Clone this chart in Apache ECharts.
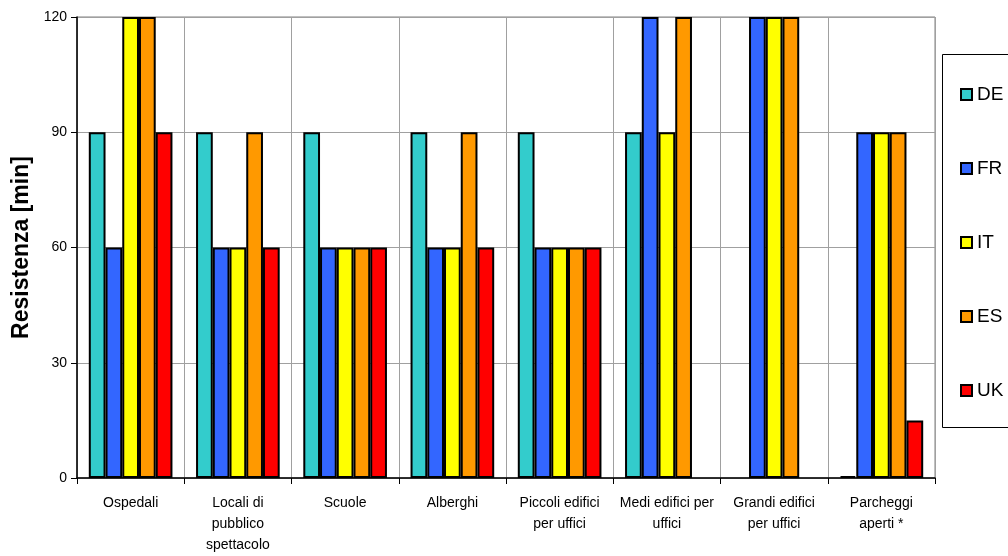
<!DOCTYPE html>
<html>
<head>
<meta charset="utf-8">
<script src="https://cdn.jsdelivr.net/npm/echarts@6/dist/echarts.min.js"></script>
<style>
  html, body { margin: 0; padding: 0; background: #fff; }
  #chart { width: 1008px; height: 556px; }
</style>
</head>
<body>
<div id="chart"></div>
<script>
// Fire resistance requirements by building type and country
const categories = [
  'Ospedali',
  'Locali di\npubblico\nspettacolo',
  'Scuole',
  'Alberghi',
  'Piccoli edifici\nper uffici',
  'Medi edifici per\nuffici',
  'Grandi edifici\nper uffici',
  'Parcheggi\naperti *'
];
const countries = ['DE', 'FR', 'IT', 'ES', 'UK'];
const colors = ['#33CCCC', '#3366FF', '#FFFF00', '#FF9900', '#FF0000'];

const DE = [90, 90, 90, 90, 90, 90, '-', 0.5];
const FR = [60, 60, 60, 60, 60, 120, 120, 90];
const IT = [120, 60, 60, 60, 60, 90, 120, 90];
const ES = [120, 90, 60, 90, 60, 120, 120, 90];
const UK = [90, 60, 60, 60, 60, '-', '-', 15];

const yTicks = { min: 0, max: 120, interval: 30 };
const values = [DE, FR, IT, ES, UK];

const FONT = '"Liberation Sans", Arial, sans-serif';

const chart = echarts.init(document.getElementById('chart'), null, { renderer: 'canvas' });

chart.setOption({
  animation: false,
  textStyle: { fontFamily: FONT },
  grid: {
    left: 77, right: 73, top: 17, bottom: 73,
    show: true, borderColor: '#808080', borderWidth: 1
  },
  legend: {
    orient: 'vertical',
    left: 955,
    top: 80,
    itemWidth: 11,
    itemHeight: 11,
    itemGap: 55,
    icon: 'rect',
    textStyle: { fontSize: 19, color: '#000', fontFamily: FONT, padding: [0, 0, 0, 0] },
    data: countries
  },
  graphic: [{
    type: 'rect',
    left: 940, top: 52,
    shape: { width: 80, height: 373 },
    style: { fill: 'none', stroke: '#000', lineWidth: 1 },
    z: 0
  }],
  xAxis: {
    type: 'category',
    data: categories,
    axisLine: { lineStyle: { color: '#000', width: 1.5 } },
    axisTick: { show: true, length: 6, lineStyle: { color: '#000' } },
    splitLine: { show: true, lineStyle: { color: '#A0A0A0', width: 1 } },
    axisLabel: { color: '#000', fontSize: 14, lineHeight: 21, margin: 15, interval: 0, fontFamily: FONT }
  },
  yAxis: {
    type: 'value',
    min: yTicks.min, max: yTicks.max, interval: yTicks.interval,
    name: 'Resistenza [min]',
    nameLocation: 'middle',
    nameGap: 44,
    nameTextStyle: { fontSize: 23, fontWeight: 'bold', color: '#000', fontFamily: FONT },
    axisLine: { show: true, lineStyle: { color: '#000', width: 1.5 } },
    axisTick: { show: true, length: 6, lineStyle: { color: '#000' } },
    splitLine: { show: true, lineStyle: { color: '#A0A0A0', width: 1 } },
    axisLabel: { color: '#000', fontSize: 14, margin: 10, fontFamily: FONT }
  },
  series: countries.map((name, i) => ({
    name: name,
    type: 'bar',
    data: values[i],
    barGap: '0%',
    barCategoryGap: '22%',
    itemStyle: { color: colors[i], borderColor: '#000', borderWidth: 2 }
  }))
});
</script>
</body>
</html>
